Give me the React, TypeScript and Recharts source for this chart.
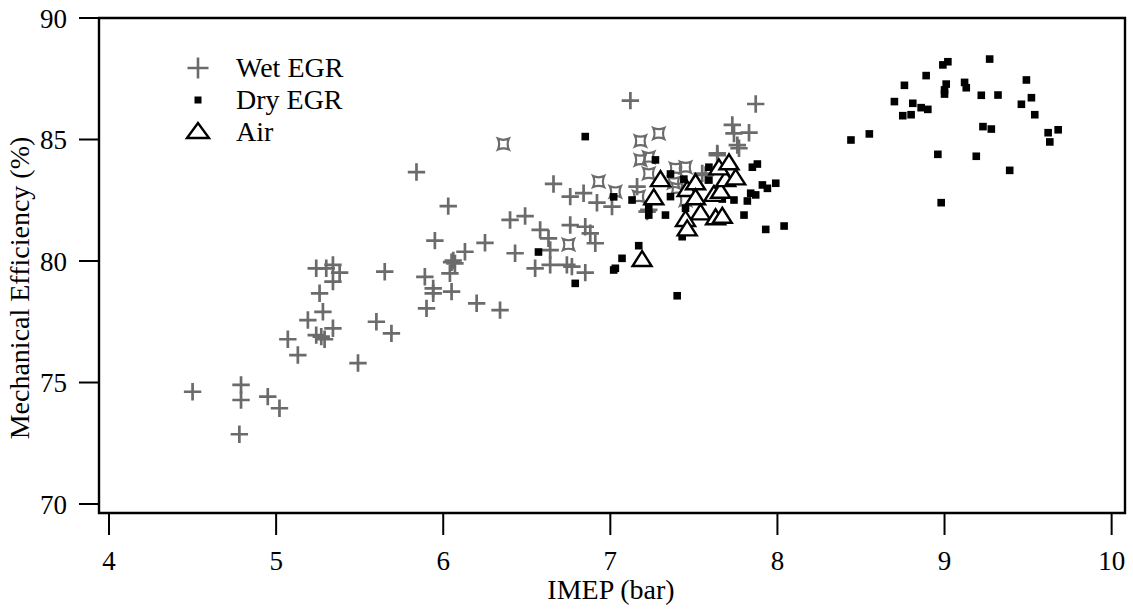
import { ScatterChart, Scatter, XAxis, YAxis, ReferenceArea, Label } from "recharts";

const FONT = "'Liberation Serif', 'Times New Roman', Times, serif";
const GRAY = "#6b6b6b";

// [IMEP (bar), mechanical efficiency (%)]
const wetEgr: [number, number][] = [
  [4.5, 74.62], [4.79, 74.9], [4.79, 74.28], [4.95, 74.42], [5.02, 73.94], [4.78, 72.87],
  [5.07, 76.78], [5.13, 76.13], [5.19, 77.57], [5.26, 78.67], [5.28, 77.91], [5.24, 76.95],
  [5.27, 76.89], [5.29, 76.78], [5.34, 77.23], [5.24, 79.7], [5.3, 79.7], [5.34, 79.84],
  [5.38, 79.52], [5.34, 79.15], [5.65, 79.56], [5.6, 77.5], [5.69, 77.02], [5.49, 75.8],
  [5.84, 83.66], [6.03, 82.26], [5.95, 80.84], [6.25, 80.75], [6.13, 80.38], [6.05, 79.95],
  [6.07, 79.9], [6.06, 80.02], [6.04, 79.49], [5.89, 79.35], [5.94, 78.87], [5.94, 78.67],
  [6.05, 78.74], [5.9, 78.05], [6.2, 78.26], [6.34, 77.98], [6.4, 81.69], [6.49, 81.85],
  [6.43, 80.32], [6.58, 81.28], [6.63, 80.93], [6.64, 80.45], [6.55, 79.7], [6.64, 79.84],
  [6.74, 79.84], [6.77, 79.77], [6.85, 79.52], [6.66, 83.17], [6.76, 82.65], [6.84, 82.79],
  [6.92, 82.4], [7.01, 82.24], [6.76, 81.48], [6.85, 81.41], [6.88, 81.14], [6.91, 80.73],
  [7.12, 86.6], [7.87, 86.46], [7.73, 85.6], [7.74, 85.25], [7.83, 85.28], [7.77, 84.64],
  [7.64, 84.43], [7.76, 84.77], [7.16, 83.06], [7.23, 82.1], [7.55, 83.6], [7.57, 83.54],
  [7.64, 84.36], [7.22, 82.03],
];

// wet EGR points drawn with the open four-point marker
const wetEgrOpen: [number, number][] = [
  [6.36, 84.81], [6.93, 83.27], [6.75, 80.68], [7.18, 84.94], [7.29, 85.25], [7.18, 84.16],
  [7.23, 84.27], [7.23, 83.6], [7.03, 82.85], [7.39, 83.81], [7.45, 83.86], [7.38, 83.22],
  [7.4, 82.99], [7.17, 82.65], [7.45, 82.5],
];

const dryEgr: [number, number][] = [
  [6.57, 80.37], [6.79, 79.08], [6.85, 85.12], [7.27, 84.16], [7.36, 83.58], [7.44, 83.37],
  [7.02, 82.64], [7.13, 82.51], [7.36, 82.65], [7.23, 82.17], [7.23, 81.89], [7.33, 81.89],
  [7.45, 82.17], [7.59, 83.86], [7.59, 83.33], [7.74, 82.51], [7.82, 82.47], [7.85, 83.86],
  [7.88, 83.99], [7.84, 82.79], [7.87, 82.72], [7.91, 83.13], [7.94, 82.99], [7.99, 83.2],
  [7.8, 81.89], [7.93, 81.3], [8.04, 81.44], [7.17, 80.63], [7.07, 80.11], [7.03, 79.7],
  [7.02, 79.63], [7.4, 78.57], [7.43, 81.0], [7.67, 82.55],
  [8.44, 84.98], [8.55, 85.23], [8.7, 86.56], [8.76, 87.23], [8.81, 86.49], [8.75, 85.98],
  [8.8, 86.02], [8.86, 86.31], [8.9, 86.24], [8.89, 87.63], [8.99, 88.07], [9.02, 88.2],
  [9.01, 87.28], [9.0, 87.04], [9.0, 86.87], [9.12, 87.35], [9.13, 87.13], [9.22, 86.82],
  [9.27, 88.31], [9.32, 86.83], [9.23, 85.53], [9.28, 85.43], [8.96, 84.39], [9.19, 84.31],
  [8.98, 82.4], [9.39, 83.73], [9.49, 87.45], [9.52, 86.72], [9.46, 86.45], [9.54, 86.02],
  [9.62, 85.28], [9.68, 85.4], [9.63, 84.9],
];

const air: [number, number][] = [
  [7.3, 83.33], [7.26, 82.58], [7.19, 80.04], [7.46, 82.92], [7.51, 83.2], [7.51, 82.58],
  [7.54, 81.96], [7.45, 81.69], [7.46, 81.3], [7.63, 81.76], [7.67, 81.82], [7.62, 82.72],
  [7.66, 82.85], [7.69, 83.33], [7.65, 83.81], [7.71, 84.02], [7.75, 83.4],
];

const xTicks = [4, 5, 6, 7, 8, 9, 10];
const yTicks = [70, 75, 80, 85, 90];
const X_DOMAIN: [number, number] = [3.94, 10.08];
const Y_DOMAIN: [number, number] = [69.63, 90];

const toPoints = (arr: [number, number][]) => arr.map(([x, y]) => ({ x, y }));

const plusPath = (cx: number, cy: number, r: number) =>
  `M${cx - r},${cy}H${cx + r}M${cx},${cy - r}V${cy + r}`;

const PlusMark = (p: any) => (
  <path d={plusPath(p.cx, p.cy, 8.7)} stroke={GRAY} strokeWidth={2.7} fill="none" />
);

const OpenMark = (p: any) => {
  const { cx, cy } = p;
  const r = 5.5;
  const k = 3;
  return (
    <path
      d={`M${cx - r},${cy - r}Q${cx},${cy - k} ${cx + r},${cy - r}Q${cx + k},${cy} ${cx + r},${cy + r}Q${cx},${cy + k} ${cx - r},${cy + r}Q${cx - k},${cy} ${cx - r},${cy - r}Z`}
      stroke={GRAY}
      strokeWidth={2.2}
      fill="none"
    />
  );
};

const SquareMark = (p: any) => (
  <rect x={p.cx - 3.8} y={p.cy - 3.8} width={7.6} height={7.6} fill="#000" />
);

const triPoints = (cx: number, cy: number, w: number, h: number) =>
  `${cx},${cy - h * 0.6} ${cx - w / 2},${cy + h * 0.4} ${cx + w / 2},${cy + h * 0.4}`;

const TriMark = (p: any) => (
  <polygon points={triPoints(p.cx, p.cy, 19, 15)} stroke="#000" strokeWidth={2.4} fill="#fff" />
);

const tickStyle = { fontSize: 27, fill: "#000", style: { fontFamily: FONT } };
const textStyle = { fontFamily: FONT };

export default function App() {
  return (
    <div style={{ position: "absolute", left: 0, top: 0, width: 1133, height: 609, background: "#fff", fontFamily: FONT }}>
      <ScatterChart width={1133} height={609} margin={{ top: 18, right: 8, left: 0, bottom: 0 }}>
        <XAxis
          type="number"
          dataKey="x"
          domain={X_DOMAIN}
          ticks={xTicks}
          allowDataOverflow
          height={96}
          axisLine={false}
          tickLine={{ stroke: "#000", strokeWidth: 2 }}
          tickSize={22}
          tickMargin={16}
          tick={tickStyle}
        >
          <Label
            content={() => (
              <text x={611} y={599} textAnchor="middle" fontSize={28} fill="#000" style={textStyle}>
                IMEP (bar)
              </text>
            )}
          />
        </XAxis>
        <YAxis
          type="number"
          dataKey="y"
          domain={Y_DOMAIN}
          ticks={yTicks}
          allowDataOverflow
          width={99}
          axisLine={false}
          tickLine={{ stroke: "#000", strokeWidth: 2 }}
          tickSize={20}
          tickMargin={12}
          tick={tickStyle}
        >
          <Label
            content={() => (
              <text
                x={29}
                y={288}
                transform="rotate(-90 29 288)"
                textAnchor="middle"
                fontSize={28}
                fill="#000"
                style={textStyle}
              >
                Mechanical Efficiency (%)
              </text>
            )}
          />
        </YAxis>
        <ReferenceArea
          x1={X_DOMAIN[0]}
          x2={X_DOMAIN[1]}
          y1={Y_DOMAIN[0]}
          y2={Y_DOMAIN[1]}
          fill="none"
          fillOpacity={0}
          stroke="#000"
          strokeWidth={2.4}
        />
        <Scatter name="Wet EGR" data={toPoints(wetEgr)} shape={PlusMark} isAnimationActive={false} />
        <Scatter name="Wet EGR (open)" data={toPoints(wetEgrOpen)} shape={OpenMark} isAnimationActive={false} />
        <Scatter name="Dry EGR" data={toPoints(dryEgr)} shape={SquareMark} isAnimationActive={false} />
        <Scatter name="Air" data={toPoints(air)} shape={TriMark} isAnimationActive={false} />
      </ScatterChart>
      <svg
        width={1133}
        height={609}
        style={{ position: "absolute", left: 0, top: 0, pointerEvents: "none" }}
      >
        <path d={plusPath(198, 68, 10.5)} stroke={GRAY} strokeWidth={2.6} fill="none" />
        <rect x={194.5} y={96.5} width={7} height={7} fill="#000" />
        <polygon points={triPoints(198, 132, 22, 15)} stroke="#000" strokeWidth={2.4} fill="#fff" />
        <g fontSize={28} fill="#000" style={textStyle}>
          <text x={236} y={77}>Wet EGR</text>
          <text x={236} y={109}>Dry EGR</text>
          <text x={236} y={141}>Air</text>
        </g>
      </svg>
    </div>
  );
}
